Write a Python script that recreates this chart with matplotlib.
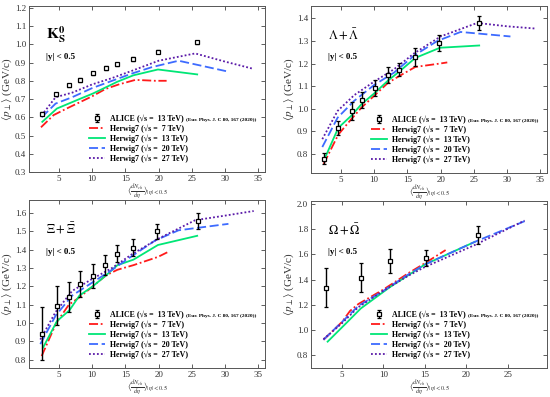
import numpy as np
import matplotlib
matplotlib.use("Agg")
from matplotlib import pyplot as plt

plt.rcParams['font.family'] = ['Liberation Serif', 'DejaVu Serif']
plt.rcParams['mathtext.fontset'] = 'stix'

# ---- data: ALICE points (x, y, err) and Herwig7 curves for each energy ----
# K0s
k_x = [2.5, 4.6, 6.5, 8.1, 10.1, 12.1, 13.8, 16.2, 19.9, 25.8]
k_y = [0.62, 0.725, 0.775, 0.805, 0.84, 0.87, 0.89, 0.92, 0.96, 1.01]
k_e = [0.01, 0.01, 0.01, 0.01, 0.01, 0.01, 0.01, 0.01, 0.01, 0.01]
k_7x = [2.3, 4.2, 6.0, 8.0, 10.0, 12.0, 14.0, 16.5, 19.5, 21.2]
k_7y = [0.545, 0.612, 0.645, 0.68, 0.715, 0.755, 0.78, 0.805, 0.80, 0.80]
k_13x = [2.5, 4.7, 8.1, 10.1, 12.1, 13.8, 16.2, 19.9, 25.8]
k_13y = [0.575, 0.648, 0.70, 0.73, 0.765, 0.795, 0.83, 0.862, 0.835]
k_20x = [2.4, 4.5, 7.0, 10.0, 13.0, 16.0, 19.0, 23.0, 30.5]
k_20y = [0.60, 0.675, 0.71, 0.76, 0.80, 0.84, 0.875, 0.91, 0.85]
k_27x = [2.4, 4.5, 7.0, 10.0, 13.0, 16.0, 20.0, 25.5, 30.0, 34.3]
k_27y = [0.61, 0.71, 0.735, 0.78, 0.815, 0.855, 0.91, 0.95, 0.905, 0.865]

# Lambda
l_x = [2.45, 4.6, 6.6, 8.1, 10.1, 12.1, 13.8, 16.1, 19.7, 25.7]
l_y = [0.778, 0.914, 0.988, 1.037, 1.093, 1.148, 1.173, 1.227, 1.292, 1.38]
l_e = [0.025, 0.03, 0.04, 0.035, 0.035, 0.035, 0.03, 0.04, 0.035, 0.03]
l_7x = [2.4, 4.6, 6.6, 8.1, 10.1, 12.1, 13.8, 16.2, 19.9, 21.0]
l_7y = [0.755, 0.885, 0.955, 1.005, 1.06, 1.115, 1.145, 1.185, 1.20, 1.205]
l_13x = [2.5, 4.6, 6.6, 8.1, 10.1, 12.1, 13.8, 16.2, 19.9, 25.8]
l_13y = [0.775, 0.915, 0.97, 1.02, 1.07, 1.125, 1.165, 1.225, 1.27, 1.28]
l_20x = [2.2, 4.5, 7.0, 10.0, 13.0, 16.0, 19.5, 23.0, 30.5]
l_20y = [0.83, 0.96, 1.035, 1.105, 1.16, 1.235, 1.30, 1.34, 1.32]
l_27x = [2.2, 4.5, 7.0, 10.0, 13.0, 16.0, 20.0, 25.5, 30.0, 34.3]
l_27y = [0.865, 0.99, 1.06, 1.12, 1.175, 1.245, 1.32, 1.38, 1.365, 1.355]

# Xi
x_x = [2.5, 4.7, 6.5, 8.1, 10.1, 12.0, 13.7, 16.2, 19.8, 25.9]
x_y = [0.942, 1.095, 1.142, 1.213, 1.255, 1.315, 1.378, 1.41, 1.50, 1.555]
x_e = [0.143, 0.105, 0.08, 0.07, 0.065, 0.055, 0.045, 0.045, 0.04, 0.045]
x_7x = [2.4, 4.6, 6.5, 8.1, 10.1, 12.1, 13.8, 16.2, 19.9, 21.3]
x_7y = [0.82, 1.0, 1.10, 1.14, 1.20, 1.26, 1.29, 1.315, 1.36, 1.385]
x_13x = [2.6, 4.7, 6.6, 8.1, 10.1, 12.1, 13.8, 16.2, 19.9, 25.8]
x_13y = [0.865, 1.01, 1.07, 1.15, 1.20, 1.26, 1.315, 1.345, 1.425, 1.475]
x_20x = [2.2, 4.5, 7.0, 10.0, 13.0, 16.0, 19.5, 23.0, 30.5]
x_20y = [0.885, 1.04, 1.15, 1.22, 1.29, 1.365, 1.45, 1.505, 1.54]
x_27x = [2.2, 4.5, 7.0, 10.0, 13.0, 16.0, 20.0, 25.5, 30.0, 34.3]
x_27y = [0.91, 1.06, 1.175, 1.24, 1.30, 1.375, 1.46, 1.56, 1.585, 1.61]

# Omega
o_x = [3.1, 7.3, 10.8, 15.1, 21.4]
o_y = [1.334, 1.413, 1.545, 1.571, 1.755]
o_e = [0.155, 0.115, 0.095, 0.065, 0.07]
o_7x = [2.8, 5.0, 6.0, 7.0, 10.0, 13.0, 15.0, 17.5]
o_7y = [0.92, 1.06, 1.15, 1.205, 1.32, 1.45, 1.53, 1.635]
o_13x = [3.3, 5.5, 7.3, 10.8, 15.0, 21.0]
o_13y = [0.905, 1.05, 1.17, 1.34, 1.52, 1.70]
o_20x = [2.8, 5.0, 7.0, 10.0, 13.0, 15.0, 21.0, 27.0]
o_20y = [0.92, 1.06, 1.19, 1.31, 1.44, 1.52, 1.70, 1.865]
o_27x = [2.8, 5.0, 7.0, 10.0, 13.0, 15.0, 21.0, 27.0]
o_27y = [0.925, 1.05, 1.18, 1.31, 1.43, 1.50, 1.675, 1.87]

panels = [
    dict(name=r'$\mathbf{K^{0}_{S}}$', nsize=11, xlim=(0.5, 36), ylim=(0.3, 1.21),
         yt=np.arange(0.3, 1.21, 0.1), xt=[5, 10, 15, 20, 25, 30, 35],
         d=(k_x, k_y, k_e), h=[(k_7x, k_7y), (k_13x, k_13y), (k_20x, k_20y), (k_27x, k_27y)],
         rect=[29, 6, 265, 172]),
    dict(name=r'$\Lambda+\bar{\Lambda}$', nsize=9, xlim=(0.5, 36), ylim=(0.715, 1.455),
         yt=np.arange(0.8, 1.41, 0.1), xt=[5, 10, 15, 20, 25, 30, 35],
         d=(l_x, l_y, l_e), h=[(l_7x, l_7y), (l_13x, l_13y), (l_20x, l_20y), (l_27x, l_27y)],
         rect=[311, 6, 547, 173]),
    dict(name=r'$\Xi+\bar{\Xi}$', nsize=9, xlim=(0.5, 36), ylim=(0.755, 1.67),
         yt=np.arange(0.8, 1.61, 0.1), xt=[5, 10, 15, 20, 25, 30, 35],
         d=(x_x, x_y, x_e), h=[(x_7x, x_7y), (x_13x, x_13y), (x_20x, x_20y), (x_27x, x_27y)],
         rect=[29, 200, 265, 368]),
    dict(name=r'$\Omega+\bar{\Omega}$', nsize=9, xlim=(1.3, 29.7), ylim=(0.695, 2.026),
         yt=np.arange(0.8, 2.01, 0.2), xt=[5, 10, 15, 20, 25],
         d=(o_x, o_y, o_e), h=[(o_7x, o_7y), (o_13x, o_13y), (o_20x, o_20y), (o_27x, o_27y)],
         rect=[311, 201, 547, 368]),
]

styles = [
    dict(color='#ff1a1a', ls=(0, (5, 1.5, 1, 1.5)), label='Herwig7 (√s =  7 TeV)'),
    dict(color='#00e676', ls='-', label='Herwig7 (√s =  13 TeV)'),
    dict(color='#3d6bff', ls=(0, (5, 2)), label='Herwig7 (√s =  20 TeV)'),
    dict(color='#5a1aa8', ls=(0, (1, 1.2)), label='Herwig7 (√s =  27 TeV)'),
]
alice_label = 'ALICE (√s =  13 TeV)'
cite = '(Eur. Phys. J. C 80, 167 (2020))'

W, H = 550, 397
fig = plt.figure(figsize=(5.5, 3.97), dpi=100)

legs = []
for p in panels:
    x0, y0, x1, y1 = p['rect']
    ax = fig.add_axes([x0 / W, 1 - y1 / H, (x1 - x0) / W, (y1 - y0) / H])
    for (hx, hy), st in zip(p['h'], styles):
        ax.plot(hx, hy, color=st['color'], ls=st['ls'], lw=1.3, label=st['label'])
    dx, dy, de = p['d']
    ax.errorbar(dx, dy, yerr=de, fmt='s', ms=3.5, mfc='white', mec='black', mew=0.9,
                ecolor='black', elinewidth=1.0, capsize=1.5, capthick=0.8, zorder=5,
                label=alice_label)
    ax.set_xlim(*p['xlim'])
    ax.set_ylim(*p['ylim'])
    ax.set_xticks(p['xt'])
    ax.set_yticks(p['yt'])
    ax.set_yticklabels(['%.1f' % v for v in p['yt']])
    ax.tick_params(direction='in', top=True, right=True, labelsize=6.5, length=3, width=0.6,
                   pad=2, colors='#444444', labelcolor='#333333')
    for s in ax.spines.values():
        s.set_color('#555555')
        s.set_linewidth(0.7)
    ax.set_ylabel(r'$\langle p_{\perp}\rangle$ (GeV/c)', fontsize=8, labelpad=1, color='#333333')
    ax.set_xlabel(r'$\langle\frac{dN_{ch}}{d\eta}\rangle_{|\eta|<0.5}$', fontsize=6.4, labelpad=0, color='#333333')
    ax.text(0.07, 0.80, p['name'], transform=ax.transAxes, fontsize=p['nsize'], fontweight='bold')
    ax.text(0.07, 0.68, '|y| < 0.5', transform=ax.transAxes, fontsize=6.5, fontweight='bold')

    handles, labels = ax.get_legend_handles_labels()
    order = [4, 0, 1, 2, 3]
    leg = ax.legend([handles[i] for i in order], [labels[i] for i in order],
                    loc='lower left', bbox_to_anchor=(0.23, 0.02), frameon=False,
                    prop={'size': 5.7, 'weight': 'bold'}, handlelength=2.0, handletextpad=0.7,
                    labelspacing=0.2, borderpad=0.2)
    legs.append(leg)

# small citation text after the ALICE legend entry
fig.canvas.draw()
r = fig.canvas.get_renderer()
for leg in legs:
    bb = leg.get_texts()[0].get_window_extent(r)
    fig.text((bb.x1 + 2) / W, (bb.y0 + 1) / H, cite, fontsize=3.8, fontweight='bold',
             va='bottom', ha='left')

fig.savefig('out.png', dpi=100)
